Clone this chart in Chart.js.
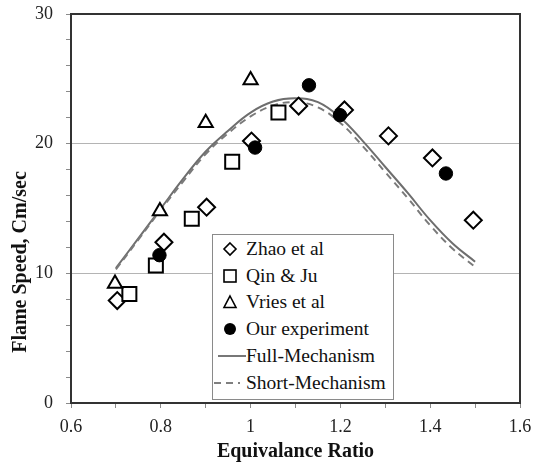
<!DOCTYPE html>
<html><head><meta charset="utf-8">
<script src="https://cdn.jsdelivr.net/npm/chart.js@4.4.1/dist/chart.umd.min.js"></script>
<style>
html,body{margin:0;padding:0;background:#fff;}
#wrap{position:relative;width:543px;height:466px;}
#legend{position:absolute;left:212px;top:234px;width:180px;height:164px;border:1px solid #8a8a8a;background:#fff;font-family:"Liberation Serif","Times New Roman",serif;font-size:19.5px;color:#111;}
.row{position:absolute;left:0;width:178px;height:26px;line-height:26px;white-space:nowrap;}
.row svg{position:absolute;left:0;top:0;}
.row span{position:absolute;left:33px;top:0;}
</style></head>
<body><div id="wrap"><canvas id="c" width="543" height="466"></canvas><div id="legend"></div></div>
<script>
// ---- data ----
const zhaoRatio  = [0.703, 0.807, 0.902, 1.002, 1.107, 1.209, 1.307, 1.405, 1.496];
const zhaoSpeed  = [7.9, 12.4, 15.1, 20.2, 22.9, 22.6, 20.6, 18.9, 14.1];
const qinRatio   = [0.730, 0.789, 0.869, 0.959, 1.062];
const qinSpeed   = [8.4, 10.6, 14.2, 18.6, 22.4];
const vriesRatio = [0.698, 0.798, 0.900, 1.000];
const vriesSpeed = [9.2, 14.8, 21.6, 24.9];
const oursRatio  = [0.797, 1.010, 1.130, 1.199, 1.435];
const oursSpeed  = [11.4, 19.7, 24.5, 22.2, 17.7];
const mechRatio  = [0.70, 0.75, 0.80, 0.85, 0.90, 0.95, 1.00, 1.05, 1.10, 1.15, 1.20, 1.25, 1.30, 1.35, 1.40, 1.45, 1.50];
const fullSpeed  = [10.4, 12.7, 15.0, 17.3, 19.4, 21.0, 22.4, 23.25, 23.5, 23.2, 22.0, 20.2, 18.2, 16.2, 14.1, 12.3, 10.9];
const shortSpeed = [10.3, 12.6, 14.9, 17.1, 19.2, 20.8, 22.1, 22.95, 23.2, 22.8, 21.6, 19.8, 17.8, 15.8, 13.7, 11.9, 10.5];
const seriesNames = ['Zhao et al', 'Qin & Ju', 'Vries et al', 'Our experiment', 'Full-Mechanism', 'Short-Mechanism'];
const xTickLabels = ['0.6', '0.8', '1', '1.2', '1.4', '1.6'];
const yTickLabels = ['0', '10', '20', '30'];
const xTitleText = 'Equivalance Ratio';
const yTitleText = 'Flame Speed, Cm/sec';

const pts = (xs, ys) => xs.map((x, i) => ({x: x, y: ys[i]}));
const FONT = '"Liberation Serif", "Times New Roman", serif';
Chart.defaults.font.family = FONT;

const frame = {
  id: 'frame',
  afterDraw(chart) {
    const {ctx, chartArea: a} = chart;
    ctx.save();
    ctx.strokeStyle = '#333';
    ctx.lineWidth = 2;
    ctx.strokeRect(a.left, a.top, a.right - a.left, a.bottom - a.top);
    ctx.translate(21, 262);
    ctx.rotate(-Math.PI / 2);
    ctx.font = 'bold 20px ' + FONT;
    ctx.fillStyle = '#111';
    ctx.textAlign = 'center';
    ctx.textBaseline = 'middle';
    ctx.fillText(yTitleText, 0, 0);
    ctx.restore();
  }
};

const markerCommon = {borderColor: '#000', backgroundColor: '#fff', borderWidth: 2, showLine: false};
const chart = new Chart(document.getElementById('c'), {
  type: 'scatter',
  data: {
    datasets: [
      Object.assign({label: seriesNames[0], data: pts(zhaoRatio, zhaoSpeed), pointStyle: 'rectRot', pointRadius: 8.5, pointHoverRadius: 8.5, order: 4}, markerCommon),
      Object.assign({label: seriesNames[1], data: pts(qinRatio, qinSpeed), pointStyle: 'rect', pointRadius: 9.9, pointHoverRadius: 9.9, order: 3}, markerCommon),
      Object.assign({label: seriesNames[2], data: pts(vriesRatio, vriesSpeed), pointStyle: 'triangle', pointRadius: 8.2, pointHoverRadius: 8.2, order: 2}, markerCommon),
      {label: seriesNames[3], data: pts(oursRatio, oursSpeed), pointStyle: 'circle', pointRadius: 6.7, pointHoverRadius: 6.7, borderColor: '#000', backgroundColor: '#000', borderWidth: 1, showLine: false, order: 1},
      {label: seriesNames[4], data: pts(mechRatio, fullSpeed), showLine: true, pointRadius: 0, pointHoverRadius: 0, borderColor: '#6e6e6e', borderWidth: 2, tension: 0.4, fill: false, order: 10},
      {label: seriesNames[5], data: pts(mechRatio, shortSpeed), showLine: true, pointRadius: 0, pointHoverRadius: 0, borderColor: '#7a7a7a', borderWidth: 2, borderDash: [7, 5], tension: 0.4, fill: false, order: 9}
    ]
  },
  options: {
    responsive: false,
    animation: false,
    events: [],
    layout: {padding: {top: 14, right: 23, left: 0, bottom: 0}},
    plugins: {legend: {display: false}, tooltip: {enabled: false}},
    scales: {
      x: {
        type: 'linear', min: 0.6, max: 1.6,
        afterFit(s) { s.height = 63; s.paddingLeft = 0; s.paddingRight = 0; },
        ticks: {
          stepSize: 0.1, autoSkip: false, maxRotation: 0, padding: 8,
          color: '#222', font: {size: 18, family: FONT},
          callback(v) { const l = String(Number(Number(v).toFixed(1))); return xTickLabels.includes(l) ? l : ''; }
        },
        grid: {drawOnChartArea: false, tickLength: 5, tickColor: '#8a8a8a'},
        border: {color: '#333', width: 2},
        title: {display: true, text: xTitleText, color: '#111', font: {size: 20, weight: 'bold', family: FONT}, padding: {top: 0, bottom: 2}}
      },
      y: {
        type: 'linear', min: 0, max: 30,
        afterFit(s) { s.width = 71; s.paddingTop = 0; s.paddingBottom = 0; },
        ticks: {
          stepSize: 2, autoSkip: false, padding: 13,
          color: '#222', font: {size: 18, family: FONT},
          callback(v) { const l = String(Math.round(v)); return yTickLabels.includes(l) ? l : ''; }
        },
        grid: {
          tickLength: 5, tickColor: '#8a8a8a', lineWidth: 1,
          color(c) { const v = c.tick ? c.tick.value : null; return (v === 10 || v === 20) ? '#b4b4b4' : 'rgba(0,0,0,0)'; }
        },
        border: {color: '#333', width: 2}
      }
    }
  },
  plugins: [frame]
});

// ---- HTML legend built from the chart's datasets ----
function symbolSvg(ds) {
  const s = 'stroke="#000" stroke-width="1.6"';
  if (ds.showLine) {
    const dash = ds.borderDash ? ' stroke-dasharray="7 5"' : '';
    const x1 = ds.borderDash ? 1 : 5, x2 = ds.borderDash ? 27 : 33;
    return '<svg width="34" height="26"><line x1="' + x1 + '" y1="13" x2="' + x2 + '" y2="13" stroke="#555" stroke-width="1.6"' + dash + '/></svg>';
  }
  let shape = '';
  if (ds.pointStyle === 'rectRot') shape = '<polygon points="17,7 23,13 17,19 11,13" fill="#fff" ' + s + '/>';
  else if (ds.pointStyle === 'rect') shape = '<rect x="11" y="7" width="12" height="12" fill="#fff" ' + s + '/>';
  else if (ds.pointStyle === 'triangle') shape = '<polygon points="17,7 23,18.5 11,18.5" fill="#fff" ' + s + '/>';
  else shape = '<circle cx="17" cy="13" r="6" fill="#000"/>';
  return '<svg width="34" height="26">' + shape + '</svg>';
}
const legendEl = document.getElementById('legend');
chart.data.datasets.forEach((ds, i) => {
  const row = document.createElement('div');
  row.className = 'row';
  row.style.top = (1 + i * 26.7) + 'px';
  row.innerHTML = symbolSvg(ds) + '<span></span>';
  row.querySelector('span').textContent = ds.label;
  legendEl.appendChild(row);
});
</script>
</body></html>
